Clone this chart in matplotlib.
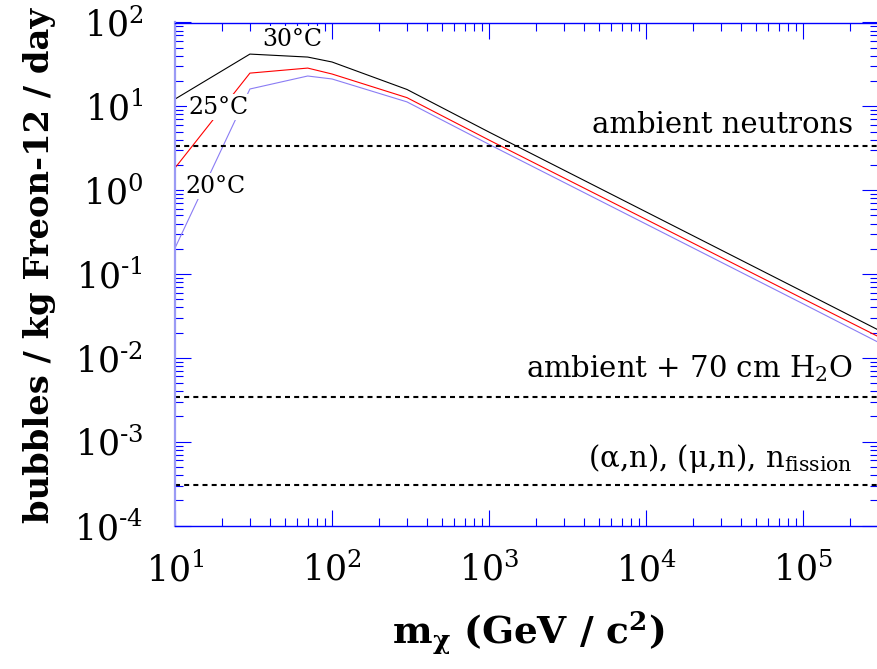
import numpy as np
import matplotlib
matplotlib.use("Agg")
import matplotlib.pyplot as plt
from matplotlib.ticker import LogLocator, NullFormatter, FuncFormatter

plt.rcParams['font.family'] = 'DejaVu Serif'
plt.rcParams['mathtext.fontset'] = 'dejavuserif'

# WIMP mass (GeV/c^2)
mass = [10, 30, 70, 100, 300, 1000, 1e4, 1e5, 3e5]

# expected bubbles / kg Freon-12 / day
rate_30C = [12.2, 42.0, 38.7, 33.8, 15.9, 4.93, 0.551, 0.0616, 0.0216]
rate_25C = [1.84, 24.9, 28.6, 24.3, 12.7, 3.96, 0.448, 0.0507, 0.018]
rate_20C = [0.204, 16.1, 23.0, 21.2, 11.3, 3.52, 0.394, 0.0441, 0.0154]

# background levels
bg_levels = [3.36, 3.4e-3, 3.03e-4]
bg_labels = ['ambient neutrons', 'ambient + 70 cm H$_2$O',
             '(α,n), (μ,n), n$_{\\mathrm{fission}}$']
bg_text_y = [4.8, 5.9e-3, 4.97e-4]


def pow10(v, pos):
    e = int(round(np.log10(v)))
    if e < 0:
        return r'$10^{\text{-}%d}$' % (-e)
    return r'$10^{%d}$' % e


fig = plt.figure(figsize=(8.77, 6.69), dpi=100)
ax = fig.add_axes([175/877, 1 - 525.5/669, 703/877, 503/669])

ax.plot(mass, rate_30C, color='black', lw=0.8, zorder=2)
ax.plot(mass, rate_25C, color='red', lw=0.8, zorder=2)
ax.plot(mass, rate_20C, color='#8a7cf4', lw=0.8, zorder=2)

for lev in bg_levels:
    ax.axhline(lev, color='black', lw=1.5, ls=(0, (2.4, 2)), zorder=2)
for lab, ty in zip(bg_labels, bg_text_y):
    ax.text(2.08e5, ty, lab, ha='right', va='baseline', fontsize=21)

box = dict(facecolor='white', edgecolor='none', pad=1)
ax.text(55.5, 63.5, '30°C', ha='center', va='center', fontsize=17, bbox=box, zorder=3)
ax.text(18.8, 9.8, '25°C', ha='center', va='center', fontsize=17, bbox=box, zorder=3)
ax.text(18.0, 1.12, '20°C', ha='center', va='center', fontsize=17, bbox=box, zorder=3)

ax.set_xscale('log')
ax.set_yscale('log')
ax.set_xlim(10, 3e5)
ax.set_ylim(1e-4, 1e2)

for a in (ax.xaxis, ax.yaxis):
    a.set_major_locator(LogLocator(base=10, numticks=20))
    a.set_minor_locator(LogLocator(base=10, subs=np.arange(2, 10), numticks=100))
    a.set_minor_formatter(NullFormatter())
    a.set_major_formatter(FuncFormatter(pow10))

ax.tick_params(which='both', direction='in', top=True, right=True, color='blue')
ax.tick_params(which='major', length=11.5, width=0.8, labelsize=25)
ax.tick_params(axis='x', which='major', pad=19)
ax.tick_params(axis='y', which='major', pad=23)
ax.tick_params(which='minor', length=5.8, width=0.8)
for s in ax.spines.values():
    s.set_color('blue')
    s.set_linewidth(1.0)
ax.spines['left'].set_color('#9a9af5')
ax.spines['left'].set_linewidth(1.6)

fig.text(40/877, 1 - 265/669, 'bubbles / kg Freon-12 / day', rotation=90,
         ha='center', va='center', fontsize=24.3, fontweight='bold')
fig.text(528/877, 1 - 633/669, r'm$_{\mathbf{\chi}}$ (GeV / c$^{\mathbf{2}}$)',
         ha='center', va='center', fontsize=27, fontweight='bold')

fig.savefig('out.png', dpi=100)
